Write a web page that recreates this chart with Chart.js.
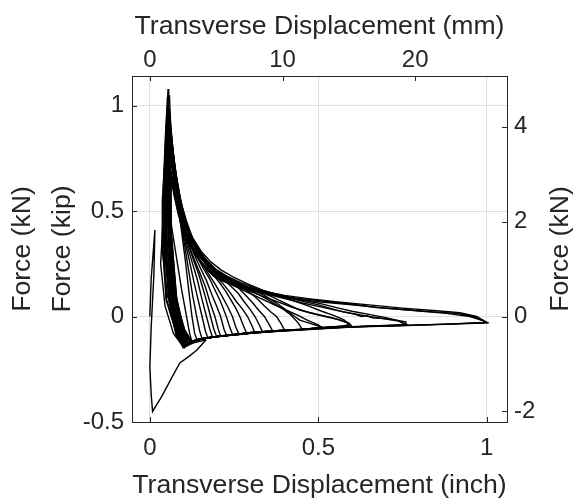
<!DOCTYPE html>
<html>
<head>
<meta charset="utf-8">
<script src="https://cdn.jsdelivr.net/npm/chart.js@4.4.1/dist/chart.umd.min.js"></script>
<style>
  html, body { margin: 0; padding: 0; background: #ffffff; }
  canvas { display: block; }
</style>
</head>
<body>
<canvas id="chart" width="578" height="504"></canvas>
<script>
// Axis limits (inch / kip) and unit conversions for the secondary axes
const xLimits = [-0.053, 1.06];
const yLimits = [-0.5, 1.14];
const MM_PER_INCH = 25.4;
const KN_PER_KIP = 4.448;

// Tick labels
const inchTicks = [0, 0.5, 1];
const kipTicks = [-0.5, 0, 0.5, 1];
const mmTicks = [0, 10, 20];
const kNTicks = [-2, 0, 2, 4];

// Measured force-displacement cycles: [displacement (inch), force (kip)]
const cycle01 = [[0,0],[0.004,0.18],[0.015,0.41],[0.012,0.2],[0.004,-0.05],[0,-0.24],[0.004,-0.37],[0.008,-0.45],[0.035,-0.38],[0.065,-0.29],[0.089,-0.22],[0.115,-0.19],[0.139,-0.16],[0.167,-0.11]];
const cycle02 = [[0.167,-0.11],[0.13,-0.125],[0.1,-0.145],[0.07,-0.08],[0.045,0.05],[0.032,0.25],[0.038,0.42],[0.046,0.3],[0.06,0.17],[0.075,0.07],[0.085,0],[0.095,-0.08],[0.105,-0.14]];
const cycle03 = [[0.105,-0.14],[0.08,-0.05],[0.052,0.1],[0.038,0.3],[0.037,0.55],[0.044,0.72],[0.052,0.6],[0.065,0.42],[0.08,0.27],[0.095,0.12],[0.109,0],[0.118,-0.08],[0.125,-0.12],[0.11,-0.14]];
const cycle04 = [[0.11,-0.14],[0.09,-0.08],[0.062,0.05],[0.043,0.3],[0.041,0.6],[0.047,0.85],[0.052,1.0],[0.054,1.078],[0.056,1.02],[0.058,1.05],[0.062,0.9],[0.07,0.74],[0.08,0.58],[0.092,0.43],[0.105,0.27],[0.115,0.13],[0.125,0],[0.133,-0.08],[0.14,-0.11],[0.12,-0.125],[0.1,-0.15]];
const cycle05 = [[0.1,-0.15],[0.075,-0.06],[0.048,0.08],[0.037,0.35],[0.04,0.62],[0.046,0.85],[0.051,1.0],[0.057,0.93],[0.066,0.78],[0.078,0.6],[0.09,0.46],[0.103,0.34],[0.115,0.22],[0.127,0.1],[0.139,0],[0.148,-0.07],[0.155,-0.105],[0.13,-0.115],[0.11,-0.13],[0.1,-0.15]];
const cycle06 = [[0.1,-0.15],[0.078,-0.08],[0.056,0.1],[0.045,0.4],[0.046,0.7],[0.05,0.95],[0.057,0.87],[0.066,0.74],[0.078,0.58],[0.09,0.45],[0.105,0.35],[0.118,0.26],[0.13,0.17],[0.143,0.08],[0.155,0],[0.165,-0.07],[0.172,-0.1],[0.15,-0.106],[0.125,-0.118],[0.105,-0.14],[0.1,-0.148]];
const cycle07 = [[0.1,-0.148],[0.078,-0.09],[0.058,0.06],[0.047,0.33],[0.047,0.65],[0.052,0.9],[0.06,0.82],[0.07,0.68],[0.082,0.55],[0.095,0.43],[0.11,0.34],[0.125,0.26],[0.14,0.18],[0.155,0.08],[0.168,0],[0.178,-0.06],[0.186,-0.098],[0.16,-0.104],[0.135,-0.114],[0.112,-0.13],[0.1,-0.145]];
const cycle08 = [[0.1,-0.145],[0.082,-0.08],[0.062,0.1],[0.05,0.4],[0.048,0.72],[0.053,0.98],[0.06,0.9],[0.07,0.75],[0.082,0.59],[0.095,0.46],[0.11,0.36],[0.127,0.28],[0.145,0.2],[0.16,0.12],[0.172,0.05],[0.18,0],[0.19,-0.06],[0.198,-0.095],[0.17,-0.1],[0.14,-0.11],[0.118,-0.125],[0.1,-0.145]];
const cycle09 = [[0.1,-0.145],[0.075,-0.06],[0.05,0.08],[0.04,0.35],[0.045,0.62],[0.055,0.85],[0.062,0.78],[0.073,0.65],[0.085,0.53],[0.1,0.42],[0.115,0.34],[0.132,0.27],[0.15,0.2],[0.165,0.14],[0.178,0.07],[0.193,0],[0.203,-0.06],[0.21,-0.093],[0.18,-0.099],[0.15,-0.107],[0.125,-0.12],[0.105,-0.14]];
const cycle10 = [[0.105,-0.14],[0.088,-0.07],[0.068,0.1],[0.054,0.4],[0.05,0.7],[0.054,0.93],[0.061,0.86],[0.071,0.72],[0.083,0.58],[0.097,0.46],[0.113,0.37],[0.13,0.3],[0.15,0.23],[0.168,0.17],[0.185,0.1],[0.198,0.05],[0.21,0],[0.22,-0.06],[0.228,-0.09],[0.19,-0.097],[0.155,-0.106],[0.128,-0.118],[0.11,-0.14]];
const cycle11 = [[0.11,-0.14],[0.092,-0.07],[0.07,0.12],[0.056,0.4],[0.053,0.66],[0.057,0.88],[0.064,0.8],[0.075,0.67],[0.088,0.55],[0.103,0.44],[0.12,0.36],[0.138,0.29],[0.158,0.23],[0.177,0.18],[0.195,0.12],[0.21,0.07],[0.227,0],[0.238,-0.055],[0.246,-0.087],[0.2,-0.095],[0.16,-0.104],[0.132,-0.116],[0.112,-0.135]];
const cycle12 = [[0.112,-0.135],[0.085,-0.06],[0.058,0.1],[0.043,0.4],[0.047,0.7],[0.056,0.92],[0.063,0.84],[0.074,0.7],[0.087,0.57],[0.1,0.47],[0.117,0.38],[0.135,0.31],[0.155,0.25],[0.175,0.2],[0.195,0.15],[0.213,0.1],[0.23,0.05],[0.245,0],[0.255,-0.05],[0.265,-0.085],[0.22,-0.092],[0.175,-0.1],[0.14,-0.112],[0.115,-0.13]];
const cycle13 = [[0.115,-0.13],[0.097,-0.06],[0.074,0.12],[0.059,0.42],[0.056,0.68],[0.06,0.86],[0.067,0.78],[0.078,0.65],[0.092,0.53],[0.108,0.44],[0.126,0.36],[0.145,0.3],[0.165,0.25],[0.187,0.2],[0.207,0.16],[0.225,0.12],[0.24,0.08],[0.255,0.04],[0.267,0],[0.278,-0.045],[0.288,-0.082],[0.24,-0.089],[0.19,-0.097],[0.15,-0.108],[0.12,-0.125]];
const cycle14 = [[0.12,-0.125],[0.1,-0.06],[0.076,0.1],[0.061,0.38],[0.058,0.62],[0.062,0.8],[0.07,0.72],[0.082,0.6],[0.096,0.5],[0.113,0.41],[0.132,0.34],[0.152,0.28],[0.175,0.23],[0.198,0.19],[0.22,0.15],[0.24,0.11],[0.257,0.07],[0.275,0.035],[0.29,0],[0.302,-0.04],[0.312,-0.078],[0.26,-0.085],[0.2,-0.095],[0.155,-0.106],[0.125,-0.12]];
const cycle15 = [[0.125,-0.12],[0.095,-0.06],[0.065,0.08],[0.047,0.4],[0.05,0.7],[0.059,0.9],[0.066,0.82],[0.077,0.68],[0.09,0.56],[0.105,0.46],[0.122,0.38],[0.142,0.32],[0.165,0.26],[0.19,0.215],[0.215,0.18],[0.24,0.145],[0.262,0.11],[0.28,0.07],[0.297,0.035],[0.312,0],[0.325,-0.04],[0.335,-0.075],[0.28,-0.082],[0.22,-0.091],[0.17,-0.101],[0.135,-0.113],[0.115,-0.13]];
const cycle16 = [[0.115,-0.13],[0.097,-0.07],[0.075,0.1],[0.06,0.42],[0.057,0.66],[0.061,0.84],[0.068,0.76],[0.08,0.63],[0.094,0.52],[0.11,0.43],[0.128,0.36],[0.15,0.3],[0.175,0.25],[0.2,0.21],[0.23,0.175],[0.26,0.14],[0.285,0.1],[0.305,0.065],[0.323,0.03],[0.34,0],[0.353,-0.035],[0.365,-0.07],[0.3,-0.078],[0.24,-0.088],[0.185,-0.098],[0.145,-0.109],[0.12,-0.125]];
const cycle17 = [[0.12,-0.125],[0.1,-0.07],[0.077,0.08],[0.061,0.4],[0.057,0.68],[0.06,0.88],[0.067,0.8],[0.079,0.66],[0.093,0.54],[0.109,0.45],[0.127,0.37],[0.148,0.31],[0.172,0.26],[0.2,0.215],[0.23,0.18],[0.262,0.15],[0.292,0.12],[0.318,0.085],[0.34,0.05],[0.36,0.02],[0.376,0],[0.39,-0.035],[0.4,-0.066],[0.33,-0.074],[0.26,-0.085],[0.2,-0.095],[0.155,-0.106],[0.125,-0.12]];
const cycle18 = [[0.125,-0.12],[0.104,-0.065],[0.08,0.06],[0.062,0.35],[0.055,0.7],[0.057,0.95],[0.063,0.87],[0.073,0.73],[0.086,0.59],[0.1,0.49],[0.118,0.4],[0.14,0.33],[0.165,0.27],[0.193,0.225],[0.225,0.19],[0.26,0.16],[0.3,0.13],[0.34,0.1],[0.375,0.065],[0.405,0.03],[0.43,0],[0.445,-0.017],[0.48,-0.035],[0.514,-0.052],[0.445,-0.062],[0.386,-0.066],[0.3,-0.076],[0.237,-0.088],[0.19,-0.097],[0.15,-0.107],[0.125,-0.12]];
const cycle19 = [[0.12,-0.12],[0.1,-0.07],[0.078,0.07],[0.062,0.38],[0.056,0.68],[0.059,0.9],[0.066,0.81],[0.077,0.67],[0.09,0.55],[0.106,0.45],[0.125,0.37],[0.148,0.3],[0.175,0.25],[0.205,0.21],[0.24,0.175],[0.28,0.145],[0.32,0.12],[0.36,0.095],[0.4,0.065],[0.445,0.03],[0.49,0.012],[0.54,-0.005],[0.57,-0.02],[0.59,-0.03],[0.6,-0.048],[0.534,-0.05],[0.445,-0.062],[0.386,-0.066],[0.3,-0.076],[0.237,-0.088],[0.19,-0.097],[0.145,-0.108],[0.12,-0.12]];
const cycle20 = [[0.11,-0.13],[0.092,-0.08],[0.07,0.06],[0.056,0.38],[0.051,0.72],[0.053,1.02],[0.06,0.92],[0.069,0.77],[0.08,0.62],[0.092,0.5],[0.108,0.42],[0.127,0.35],[0.15,0.29],[0.175,0.235],[0.2,0.2],[0.237,0.165],[0.28,0.14],[0.336,0.115],[0.39,0.095],[0.445,0.075],[0.5,0.055],[0.573,0.022],[0.61,0.01],[0.628,0],[0.645,0.004],[0.66,-0.006],[0.7,-0.01],[0.76,-0.025],[0.76,-0.042],[0.6,-0.048],[0.534,-0.05],[0.445,-0.062],[0.386,-0.066],[0.3,-0.076],[0.237,-0.088],[0.19,-0.097],[0.139,-0.11],[0.11,-0.13]];
const cycle21 = [[0.1,-0.14],[0.088,-0.09],[0.068,0.04],[0.055,0.35],[0.05,0.7],[0.052,1.04],[0.059,0.96],[0.068,0.8],[0.078,0.64],[0.089,0.49],[0.1,0.42],[0.11,0.37],[0.125,0.33],[0.139,0.29],[0.16,0.24],[0.187,0.196],[0.21,0.175],[0.237,0.158],[0.28,0.135],[0.336,0.116],[0.38,0.1],[0.435,0.087],[0.534,0.07],[0.6,0.058],[0.673,0.043],[0.75,0.033],[0.84,0.022],[0.91,0.015],[0.96,0],[1.0,-0.028],[0.9,-0.035],[0.76,-0.042],[0.6,-0.048],[0.514,-0.053],[0.445,-0.063],[0.35,-0.07],[0.237,-0.088],[0.17,-0.1],[0.139,-0.11],[0.12,-0.12],[0.1,-0.14]];
const cycle22 = [[0.1,-0.14],[0.086,-0.08],[0.07,0.08],[0.06,0.4],[0.058,0.78],[0.066,0.7],[0.078,0.58],[0.09,0.47],[0.105,0.39],[0.122,0.33],[0.14,0.28],[0.165,0.23],[0.19,0.19],[0.22,0.165],[0.26,0.14],[0.31,0.12],[0.37,0.1],[0.435,0.082],[0.5,0.07],[0.6,0.055],[0.7,0.04],[0.8,0.026],[0.88,0.015],[0.95,0],[0.99,-0.02],[1.0,-0.03],[0.9,-0.036],[0.76,-0.043],[0.6,-0.05],[0.445,-0.064],[0.3,-0.078],[0.2,-0.095],[0.15,-0.106],[0.12,-0.122],[0.1,-0.14]];
const cycle23 = [[0.115,-0.13],[0.096,-0.07],[0.075,0.1],[0.062,0.4],[0.06,0.7],[0.068,0.62],[0.08,0.53],[0.095,0.45],[0.112,0.38],[0.132,0.32],[0.155,0.27],[0.18,0.225],[0.21,0.19],[0.25,0.16],[0.3,0.13],[0.35,0.105],[0.4,0.085],[0.45,0.065],[0.5,0.048],[0.55,0.03],[0.6,0.015],[0.65,0],[0.7,-0.012],[0.74,-0.022],[0.765,-0.04],[0.68,-0.045],[0.6,-0.049],[0.514,-0.054],[0.445,-0.063],[0.35,-0.072],[0.25,-0.086],[0.18,-0.099],[0.14,-0.11],[0.115,-0.13]];
const cycle24 = [[0.12,-0.12],[0.1,-0.07],[0.078,0.1],[0.064,0.4],[0.062,0.68],[0.07,0.6],[0.083,0.5],[0.1,0.42],[0.12,0.35],[0.145,0.29],[0.172,0.24],[0.2,0.2],[0.235,0.165],[0.275,0.135],[0.32,0.105],[0.37,0.075],[0.42,0.045],[0.47,0.02],[0.52,0],[0.56,-0.015],[0.59,-0.032],[0.58,-0.048],[0.5,-0.054],[0.42,-0.064],[0.33,-0.074],[0.24,-0.087],[0.18,-0.099],[0.14,-0.11],[0.12,-0.12]];
const cycle25 = [[0.125,-0.12],[0.103,-0.07],[0.08,0.08],[0.064,0.38],[0.063,0.66],[0.071,0.58],[0.085,0.48],[0.102,0.4],[0.122,0.33],[0.147,0.27],[0.175,0.22],[0.21,0.18],[0.25,0.145],[0.29,0.115],[0.33,0.085],[0.37,0.055],[0.405,0.03],[0.44,0.005],[0.47,-0.02],[0.5,-0.04],[0.51,-0.052],[0.445,-0.062],[0.37,-0.068],[0.3,-0.077],[0.23,-0.089],[0.175,-0.1],[0.14,-0.111],[0.125,-0.12]];
const cycle26 = [[0.105,-0.135],[0.08,-0.07],[0.055,0.1],[0.042,0.4],[0.045,0.7],[0.05,0.92],[0.058,0.85],[0.068,0.72],[0.08,0.6],[0.093,0.5],[0.108,0.42],[0.125,0.36],[0.145,0.3],[0.17,0.25],[0.2,0.205],[0.237,0.17],[0.28,0.145],[0.336,0.12],[0.4,0.1],[0.47,0.085],[0.55,0.07],[0.65,0.055],[0.75,0.04],[0.85,0.027],[0.92,0.018],[0.97,0],[1.0,-0.028],[0.88,-0.036],[0.76,-0.042],[0.6,-0.049],[0.445,-0.062],[0.3,-0.077],[0.2,-0.094],[0.15,-0.106],[0.12,-0.12],[0.105,-0.135]];
const cycle27 = [[0.11,-0.13],[0.085,-0.06],[0.058,0.1],[0.044,0.35],[0.046,0.62],[0.054,0.85],[0.062,0.76],[0.073,0.64],[0.086,0.54],[0.1,0.46],[0.118,0.39],[0.14,0.33],[0.165,0.27],[0.195,0.225],[0.23,0.19],[0.27,0.16],[0.32,0.13],[0.38,0.105],[0.445,0.08],[0.51,0.06],[0.56,0.04],[0.6,0.025],[0.65,0.01],[0.7,-0.005],[0.735,-0.018],[0.758,-0.038],[0.68,-0.044],[0.6,-0.049],[0.445,-0.063],[0.3,-0.077],[0.2,-0.095],[0.145,-0.108],[0.11,-0.13]];
const cycle28 = [[0.115,-0.13],[0.09,-0.06],[0.062,0.08],[0.046,0.32],[0.048,0.58],[0.056,0.75],[0.064,0.68],[0.076,0.58],[0.09,0.5],[0.106,0.43],[0.125,0.36],[0.148,0.3],[0.175,0.25],[0.205,0.21],[0.24,0.175],[0.275,0.145],[0.31,0.115],[0.345,0.085],[0.375,0.055],[0.4,0.03],[0.42,0.005],[0.44,-0.03],[0.452,-0.06],[0.386,-0.066],[0.3,-0.077],[0.22,-0.09],[0.16,-0.104],[0.13,-0.117],[0.115,-0.13]];
const cycle29 = [[0.12,-0.12],[0.095,-0.06],[0.066,0.08],[0.05,0.36],[0.05,0.62],[0.057,0.8],[0.065,0.72],[0.077,0.61],[0.092,0.51],[0.108,0.44],[0.128,0.37],[0.152,0.31],[0.18,0.26],[0.212,0.22],[0.25,0.185],[0.29,0.155],[0.335,0.125],[0.38,0.1],[0.425,0.075],[0.47,0.05],[0.51,0.025],[0.545,0.005],[0.575,-0.015],[0.595,-0.04],[0.534,-0.051],[0.445,-0.062],[0.35,-0.072],[0.25,-0.086],[0.18,-0.099],[0.14,-0.11],[0.12,-0.12]];

const cycles = [cycle01, cycle02, cycle03, cycle04, cycle05, cycle06, cycle07, cycle08, cycle09, cycle10,
                cycle11, cycle12, cycle13, cycle14, cycle15, cycle16, cycle17, cycle18, cycle19, cycle20,
                cycle21, cycle22, cycle23, cycle24, cycle25, cycle26, cycle27, cycle28, cycle29];

const FONT_FAMILY = '"Liberation Sans", Arial, Helvetica, sans-serif';
const INK = '#262626';
const GRID = '#dfdfdf';
const TICK_FONT = { family: FONT_FAMILY, size: 24 };
const TITLE_FONT = { family: FONT_FAMILY, size: 26.6 };

const datasets = cycles.map((cyc, i) => ({
  label: 'cycle ' + (i + 1),
  data: cyc.map(([x, y]) => ({ x, y })),
  showLine: true,
  borderColor: '#000000',
  borderWidth: 1.4,
  pointRadius: 0,
  tension: 0,
  xAxisID: 'x',
  yAxisID: 'y'
}));

function fixedTicks(values) {
  return scale => { scale.ticks = values.map(v => ({ value: v })); };
}
function fixWidth(w) { return scale => { scale.width = w; }; }
function fixHeight(h) { return scale => { scale.height = h; }; }
const plainLabel = v => String(v);

// MATLAB-style tick marks pointing into the plot box
const inwardTicks = {
  id: 'inwardTicks',
  afterDatasetsDraw(chart) {
    const ctx = chart.ctx;
    const a = chart.chartArea;
    const len = 5;
    ctx.save();
    ctx.strokeStyle = INK;
    ctx.lineWidth = 1;
    Object.values(chart.scales).forEach(scale => {
      scale.ticks.forEach(t => {
        const p = Math.round(scale.getPixelForValue(t.value)) + 0.5;
        ctx.beginPath();
        if (scale.position === 'bottom') { ctx.moveTo(p, a.bottom); ctx.lineTo(p, a.bottom - len); }
        else if (scale.position === 'top') { ctx.moveTo(p, a.top); ctx.lineTo(p, a.top + len); }
        else if (scale.position === 'left') { ctx.moveTo(a.left, p); ctx.lineTo(a.left + len, p); }
        else { ctx.moveTo(a.right, p); ctx.lineTo(a.right - len, p); }
        ctx.stroke();
      });
    });
    ctx.restore();
  }
};

// Right-hand axis title, reading bottom to top like the left one
const rightTitle = {
  id: 'rightTitle',
  afterDraw(chart) {
    const s = chart.scales.y2;
    const ctx = chart.ctx;
    ctx.save();
    ctx.translate(s.right - 17, (chart.chartArea.top + chart.chartArea.bottom) / 2);
    ctx.rotate(-Math.PI / 2);
    ctx.font = TITLE_FONT.size + 'px ' + FONT_FAMILY;
    ctx.fillStyle = INK;
    ctx.textAlign = 'center';
    ctx.textBaseline = 'middle';
    ctx.fillText('Force (kN)', 0, 0);
    ctx.restore();
  }
};

new Chart(document.getElementById('chart'), {
  type: 'scatter',
  data: { datasets },
  options: {
    responsive: false,
    animation: false,
    devicePixelRatio: 1,
    layout: { padding: 0 },
    plugins: { legend: { display: false }, tooltip: { enabled: false } },
    scales: {
      x: {
        type: 'linear', position: 'bottom', min: xLimits[0], max: xLimits[1],
        afterBuildTicks: fixedTicks(inchTicks), afterFit: fixHeight(82),
        grid: { color: GRID, lineWidth: 1, drawTicks: false },
        border: { display: true, color: INK, width: 1 },
        ticks: { color: INK, font: TICK_FONT, padding: 12, maxRotation: 0, callback: plainLabel },
        title: { display: true, text: 'Transverse Displacement (inch)', color: INK, font: TITLE_FONT, padding: { top: 0, bottom: 2 } }
      },
      x2: {
        type: 'linear', axis: 'x', position: 'top',
        min: xLimits[0] * MM_PER_INCH, max: xLimits[1] * MM_PER_INCH,
        afterBuildTicks: fixedTicks(mmTicks), afterFit: fixHeight(76),
        grid: { display: true, color: 'rgba(0,0,0,0)', drawTicks: false },
        border: { display: true, color: INK, width: 1 },
        ticks: { color: INK, font: TICK_FONT, padding: 1.5, maxRotation: 0, callback: plainLabel },
        title: { display: true, text: 'Transverse Displacement (mm)', color: INK, font: TITLE_FONT, padding: { top: 11, bottom: 0 } }
      },
      y: {
        type: 'linear', position: 'left', min: yLimits[0], max: yLimits[1],
        afterBuildTicks: fixedTicks(kipTicks), afterFit: fixWidth(132),
        grid: { color: GRID, lineWidth: 1, drawTicks: false },
        border: { display: true, color: INK, width: 1 },
        ticks: { color: INK, font: TICK_FONT, padding: 8, callback: plainLabel },
        title: { display: true, text: ['Force (kN)', 'Force (kip)'], color: INK,
                 font: { family: FONT_FAMILY, size: 26.6, lineHeight: 1.5 }, padding: { top: 3, bottom: 0 } }
      },
      y2: {
        type: 'linear', axis: 'y', position: 'right',
        min: yLimits[0] * KN_PER_KIP, max: yLimits[1] * KN_PER_KIP,
        afterBuildTicks: fixedTicks(kNTicks), afterFit: fixWidth(71),
        grid: { display: true, color: 'rgba(0,0,0,0)', drawTicks: false },
        border: { display: true, color: INK, width: 1 },
        ticks: { color: INK, font: TICK_FONT, padding: 7, callback: plainLabel },
        title: { display: false }
      }
    }
  },
  plugins: [inwardTicks, rightTitle]
});
</script>
</body>
</html>
